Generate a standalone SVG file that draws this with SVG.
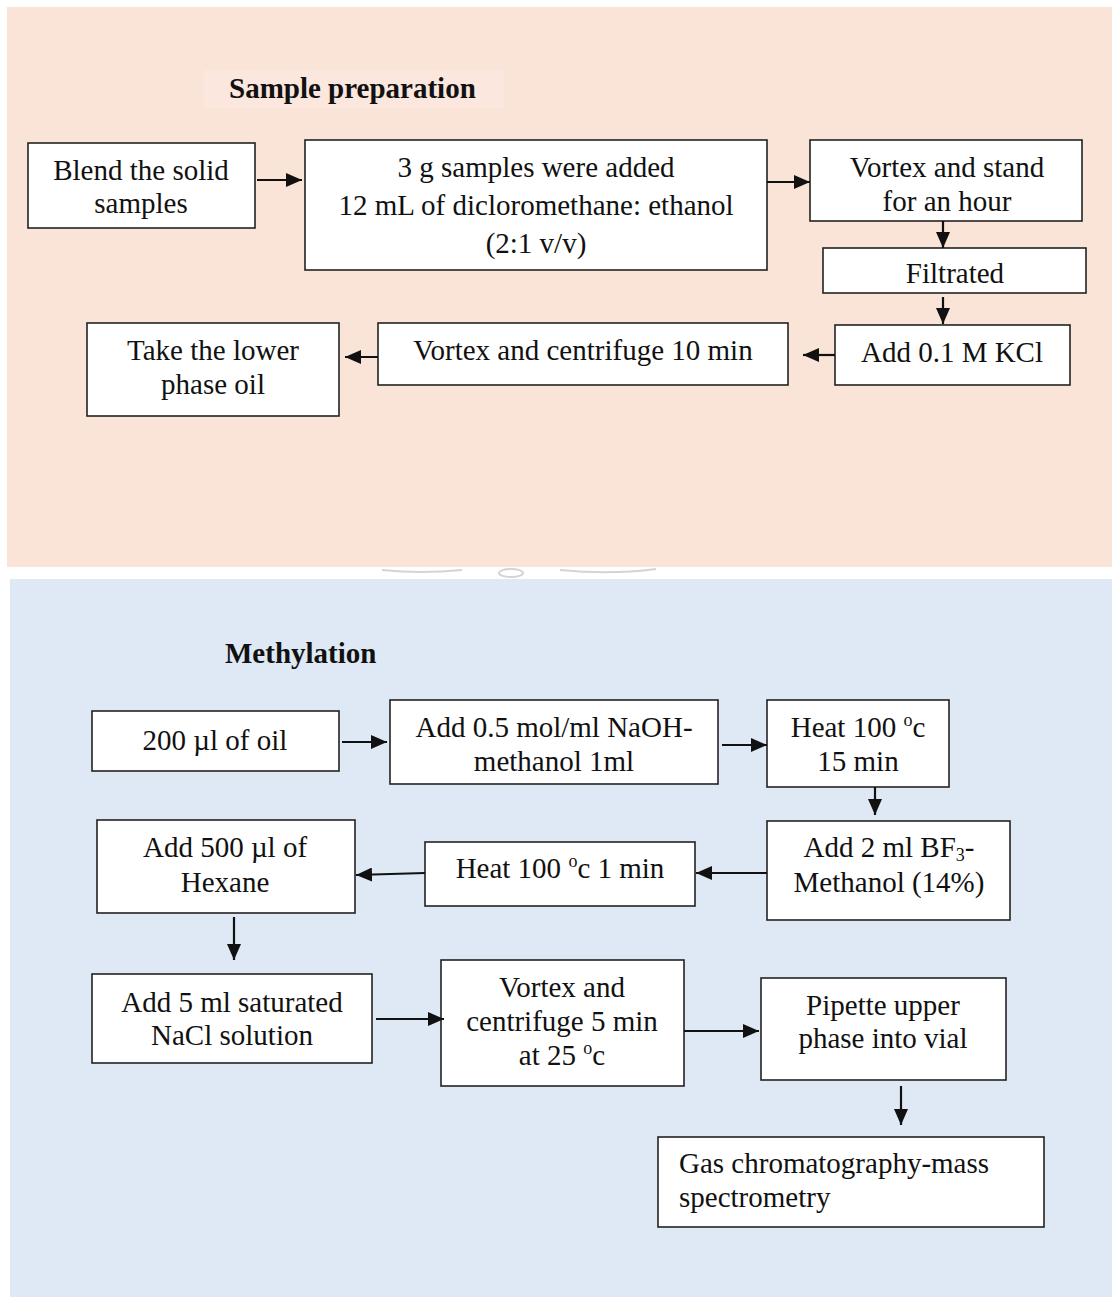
<svg xmlns="http://www.w3.org/2000/svg" width="1112" height="1297" viewBox="0 0 1112 1297">
<defs>
<style>
.box{fill:#fff;stroke:#222;stroke-width:1.6}
.t{font-family:"Liberation Serif","Times New Roman",serif;font-size:29px;fill:#111;text-anchor:middle}
.tl{text-anchor:start}
.ttl{font-family:"Liberation Serif","Times New Roman",serif;font-size:29px;font-weight:bold;fill:#111}
.c{stroke:#111;stroke-width:2.2;fill:none;marker-end:url(#ah)}
.wm{fill:none;stroke:#d4d4d4;stroke-width:2}
</style>
<marker id="ah" markerUnits="userSpaceOnUse" markerWidth="16" markerHeight="14" refX="16" refY="7" orient="auto">
<path d="M0,0 L16,7 L0,14 z" fill="#111"/>
</marker>
</defs>
<rect x="0" y="0" width="1112" height="1297" fill="#fff"/>
<rect x="7" y="7" width="1105" height="560" fill="#FAE3D7"/>
<rect x="10" y="579" width="1102" height="718" fill="#DEE9F5"/>
<g id="watermark">
<path class="wm" d="M382,570 Q420,574 462,570"/>
<ellipse class="wm" cx="511" cy="573" rx="12" ry="4"/>
<path class="wm" d="M560,570 Q610,575 656,569"/>
</g>
<g id="title-sample">
<rect x="204" y="70" width="300" height="38" fill="#FBE7DD"/>
<text class="ttl" x="229" y="98">Sample preparation</text>
</g>
<g id="n-blend"><rect class="box" x="28" y="143" width="227" height="85"/>
<text class="t" x="141" y="180">Blend the solid</text><text class="t" x="141" y="213">samples</text></g>
<g id="n-3g"><rect class="box" x="305" y="140" width="462" height="130"/>
<text class="t" x="536" y="177">3 g samples were added</text><text class="t" x="536" y="215">12 mL of dicloromethane: ethanol</text><text class="t" x="536" y="253">(2:1 v/v)</text></g>
<g id="n-vortex-stand"><rect class="box" x="810" y="140" width="272" height="81"/>
<text class="t" x="947" y="177">Vortex and stand</text><text class="t" x="947" y="211">for an hour</text></g>
<g id="n-filtrated"><rect class="box" x="823" y="248" width="263" height="45"/>
<text class="t" x="955" y="283">Filtrated</text></g>
<g id="n-kcl"><rect class="box" x="835" y="325" width="235" height="60"/>
<text class="t" x="952" y="362">Add 0.1 M KCl</text></g>
<g id="n-vortex-cent10"><rect class="box" x="378" y="323" width="410" height="62"/>
<text class="t" x="583" y="360">Vortex and centrifuge 10 min</text></g>
<g id="n-lower"><rect class="box" x="87" y="323" width="252" height="93"/>
<text class="t" x="213" y="360">Take the lower</text><text class="t" x="213" y="394">phase oil</text></g>
<g id="title-meth">
<text class="ttl" x="225" y="663">Methylation</text>
</g>
<g id="n-oil"><rect class="box" x="92" y="711" width="247" height="60"/>
<text class="t" x="215" y="750">200 µl of oil</text></g>
<g id="n-naoh"><rect class="box" x="390" y="700" width="328" height="84"/>
<text class="t" x="554" y="737">Add 0.5 mol/ml NaOH-</text><text class="t" x="554" y="771">methanol 1ml</text></g>
<g id="n-heat15"><rect class="box" x="767" y="700" width="182" height="87"/>
<text class="t" x="858" y="737">Heat 100 <tspan font-size="18" dy="-11">o</tspan><tspan dy="11">c</tspan></text><text class="t" x="858" y="771">15 min</text></g>
<g id="n-bf3"><rect class="box" x="767" y="821" width="243" height="99"/>
<text class="t" x="889" y="857">Add 2 ml BF<tspan font-size="18" dy="4">3</tspan><tspan dy="-4">-</tspan></text><text class="t" x="889" y="892">Methanol (14%)</text></g>
<g id="n-heat1"><rect class="box" x="425" y="842" width="270" height="64"/>
<text class="t" x="560" y="878">Heat 100 <tspan font-size="18" dy="-11">o</tspan><tspan dy="11">c 1 min</tspan></text></g>
<g id="n-hexane"><rect class="box" x="97" y="820" width="258" height="93"/>
<text class="t" x="225" y="857">Add 500 µl of</text><text class="t" x="225" y="892">Hexane</text></g>
<g id="n-nacl"><rect class="box" x="92" y="974" width="280" height="89"/>
<text class="t" x="232" y="1012">Add 5 ml saturated</text><text class="t" x="232" y="1045">NaCl solution</text></g>
<g id="n-vortex-cent5"><rect class="box" x="441" y="960" width="243" height="126"/>
<text class="t" x="562" y="997">Vortex and</text><text class="t" x="562" y="1031">centrifuge 5 min</text><text class="t" x="562" y="1065">at 25 <tspan font-size="18" dy="-11">o</tspan><tspan dy="11">c</tspan></text></g>
<g id="n-pipette"><rect class="box" x="761" y="978" width="245" height="102"/>
<text class="t" x="883" y="1015">Pipette upper</text><text class="t" x="883" y="1048">phase into vial</text></g>
<g id="n-gcms"><rect class="box" x="658" y="1137" width="386" height="90"/>
<text class="t tl" x="679" y="1173">Gas chromatography-mass</text><text class="t tl" x="679" y="1207">spectrometry</text></g>
<g id="connectors">
<line class="c" x1="257" y1="180" x2="302" y2="180"/>
<line class="c" x1="767" y1="182" x2="810" y2="182"/>
<line class="c" x1="943" y1="221" x2="943" y2="248"/>
<line class="c" x1="943" y1="297" x2="943" y2="324"/>
<line class="c" x1="835" y1="355" x2="803" y2="355"/>
<line class="c" x1="378" y1="357" x2="345" y2="357"/>
<line class="c" x1="342" y1="742" x2="387" y2="742"/>
<line class="c" x1="722" y1="745" x2="767" y2="745"/>
<line class="c" x1="875" y1="787" x2="875" y2="815"/>
<line class="c" x1="767" y1="873" x2="696" y2="873"/>
<line class="c" x1="425" y1="873" x2="356" y2="875"/>
<line class="c" x1="234" y1="917" x2="234" y2="960"/>
<line class="c" x1="376" y1="1019" x2="444" y2="1019"/>
<line class="c" x1="684" y1="1031" x2="759" y2="1031"/>
<line class="c" x1="901" y1="1086" x2="901" y2="1125"/>
</g>
</svg>
